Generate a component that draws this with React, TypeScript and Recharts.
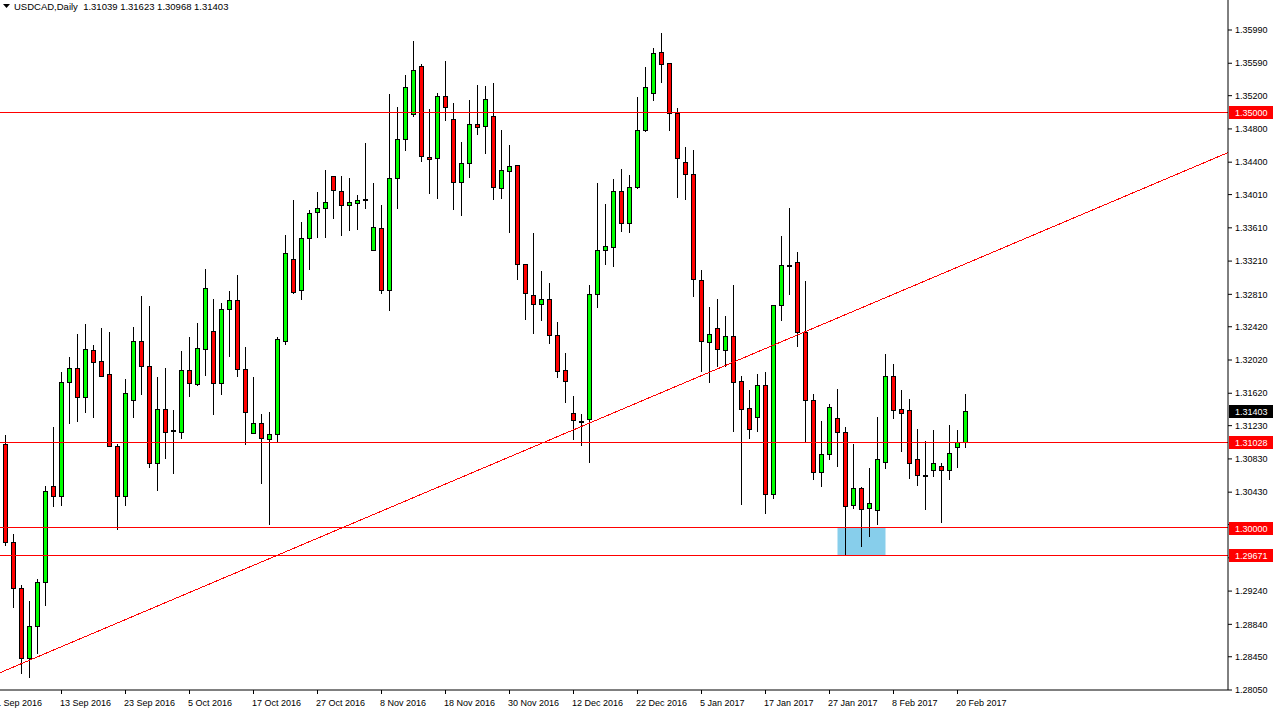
import {
  Bar,
  ComposedChart,
  ReferenceArea,
  ReferenceLine,
  XAxis,
  YAxis,
} from "recharts";

const FONT = '"Liberation Sans", Arial, sans-serif';

// daily bars, 2 Sep 2016 .. 21 Feb 2017 (no bars on 26 Dec and 2 Jan)
const opens = [
  1.3101, 1.29831, 1.29274, 1.28432, 1.28817, 1.29346, 1.30504, 1.30381, 1.31752, 1.3192,
  1.31572, 1.32137, 1.32008, 1.31852, 1.30982, 1.30388, 1.31535, 1.32245, 1.31944, 1.30778,
  1.31427, 1.31178, 1.31158, 1.31896, 1.31732, 1.32149, 1.32366, 1.3174, 1.3263, 1.32738,
  1.31908, 1.31138, 1.31259, 1.3107, 1.31126, 1.32252, 1.33235, 1.32859, 1.33484, 1.33797,
  1.33845, 1.3423, 1.3405, 1.33881, 1.33905, 1.33957, 1.3334, 1.33605, 1.32859, 1.34206,
  1.34675, 1.34976, 1.35553, 1.34459, 1.34447, 1.35193, 1.34916, 1.34158, 1.34387, 1.34856,
  1.34832, 1.34952, 1.34086, 1.3429, 1.34362, 1.33171, 1.32799, 1.3269, 1.3275, 1.32317,
  1.31896, 1.31379, 1.31286, 1.31307, 1.32811, 1.3334, 1.33376, 1.3405, 1.33665, 1.34101,
  1.34784, 1.35229, 1.35722, 1.3559, 1.34995, 1.34399, 1.34254, 1.32979, 1.32233, 1.32402,
  1.32146, 1.32309, 1.31764, 1.31439, 1.31331, 1.31716, 1.30405, 1.32678, 1.33167, 1.33196,
  1.32353, 1.31535, 1.30669, 1.30886, 1.31319, 1.3115, 1.30272, 1.30477, 1.30236, 1.30212,
  1.3079, 1.31824, 1.31427, 1.31415, 1.30826, 1.3064, 1.30693, 1.30741, 1.30697, 1.3097,
  1.31039,
];
const highs = [
  1.3113, 1.29943, 1.29326, 1.29133, 1.29394, 1.30516, 1.31226, 1.31888, 1.32068, 1.32341,
  1.32462, 1.32213, 1.32414, 1.32369, 1.31018, 1.318, 1.32429, 1.32802, 1.32682, 1.31828,
  1.31936, 1.31431, 1.32141, 1.32309, 1.32477, 1.33127, 1.32766, 1.32718, 1.32862, 1.33055,
  1.32189, 1.31828, 1.31379, 1.31407, 1.32309, 1.33536, 1.33953, 1.33692, 1.33837, 1.34053,
  1.34318, 1.34246, 1.34246, 1.34218, 1.34017, 1.34643, 1.34162, 1.33897, 1.35232, 1.35076,
  1.35461, 1.3587, 1.3559, 1.35048, 1.35244, 1.35626, 1.3512, 1.34651, 1.35156, 1.35341,
  1.35325, 1.35361, 1.34796, 1.34619, 1.34378, 1.3318, 1.3356, 1.33103, 1.32959, 1.32489,
  1.3212, 1.31599, 1.31383, 1.32935, 1.34162, 1.33905, 1.3421, 1.34326, 1.34258, 1.352,
  1.35557, 1.35786, 1.3597, 1.356, 1.35064, 1.34598, 1.34559, 1.33115, 1.3267, 1.32762,
  1.32558, 1.32935, 1.3184, 1.31671, 1.31864, 1.31884, 1.32698, 1.33524, 1.33864, 1.33331,
  1.32983, 1.31623, 1.31298, 1.31503, 1.3168, 1.31223, 1.31018, 1.30504, 1.30733, 1.31346,
  1.32101, 1.31984, 1.31671, 1.3156, 1.31199, 1.31058, 1.3119, 1.3079, 1.3125, 1.31187,
  1.31623,
];
const lows = [
  1.29795, 1.29045, 1.28251, 1.2821, 1.28492, 1.29073, 1.30267, 1.3028, 1.31266, 1.3129,
  1.31398, 1.31338, 1.31825, 1.30985, 1.29984, 1.30276, 1.31338, 1.31611, 1.30737, 1.30456,
  1.30845, 1.30664, 1.31086, 1.31591, 1.31719, 1.3184, 1.31371, 1.31611, 1.32068, 1.31831,
  1.31004, 1.31138, 1.30537, 1.30044, 1.31049, 1.32213, 1.3283, 1.32758, 1.33119, 1.33504,
  1.33504, 1.33732, 1.3352, 1.33581, 1.336, 1.33843, 1.3334, 1.3283, 1.32625, 1.33845,
  1.34543, 1.34952, 1.34418, 1.34026, 1.33973, 1.34904, 1.3384, 1.33761, 1.34225, 1.34743,
  1.34514, 1.33953, 1.33973, 1.33556, 1.32991, 1.32517, 1.32341, 1.32501, 1.32221, 1.31819,
  1.31511, 1.31066, 1.31001, 1.3079, 1.32661, 1.33169, 1.33151, 1.33576, 1.33564, 1.34089,
  1.3478, 1.35152, 1.35368, 1.34787, 1.33985, 1.33961, 1.32794, 1.31888, 1.31759, 1.31952,
  1.31948, 1.3117, 1.30284, 1.31086, 1.3117, 1.30176, 1.30364, 1.32501, 1.32818, 1.32192,
  1.31037, 1.30592, 1.30508, 1.30833, 1.30749, 1.29671, 1.30236, 1.29786, 1.29906, 1.30051,
  1.30725, 1.31326, 1.30929, 1.30604, 1.3052, 1.30231, 1.30621, 1.30075, 1.30585, 1.30729,
  1.30968,
];
const closes = [
  1.29834, 1.29274, 1.28432, 1.2882, 1.29346, 1.30441, 1.30381, 1.31752, 1.3192, 1.31572,
  1.32149, 1.32, 1.31831, 1.30989, 1.30388, 1.31623, 1.32245, 1.31944, 1.30778, 1.31427,
  1.3115, 1.31178, 1.31896, 1.3174, 1.32161, 1.32883, 1.3174, 1.3263, 1.32738, 1.31908,
  1.31391, 1.31259, 1.31078, 1.31126, 1.32269, 1.33304, 1.32838, 1.33484, 1.33785, 1.33845,
  1.33917, 1.34062, 1.33881, 1.33917, 1.33941, 1.33957, 1.33617, 1.32859, 1.34206, 1.34675,
  1.35301, 1.35505, 1.34471, 1.34435, 1.35193, 1.3506, 1.34158, 1.34387, 1.34856, 1.3482,
  1.35156, 1.34098, 1.34302, 1.3435, 1.33171, 1.32823, 1.3269, 1.3275, 1.32317, 1.31884,
  1.31764, 1.31295, 1.31286, 1.32811, 1.3334, 1.33388, 1.3405, 1.33665, 1.34098, 1.34784,
  1.35301, 1.3571, 1.35578, 1.34995, 1.34447, 1.34254, 1.32991, 1.32245, 1.32329, 1.32153,
  1.32306, 1.31759, 1.31427, 1.31187, 1.31716, 1.30405, 1.32678, 1.33159, 1.33167, 1.32353,
  1.31535, 1.30669, 1.30886, 1.31451, 1.3115, 1.30264, 1.30477, 1.30224, 1.30296, 1.30826,
  1.31824, 1.31422, 1.31379, 1.30778, 1.30633, 1.3064, 1.30778, 1.30693, 1.30898, 1.3103,
  1.31403,
];

// date labels sit on every 8th bar (bar -1 is 1 Sep, just off the left edge)
const labelBars = [-1, 7, 15, 23, 31, 39, 47, 55, 63, 71, 79, 87, 95, 103, 111, 119];
const dateLabels = [
  "1 Sep 2016", "13 Sep 2016", "23 Sep 2016", "5 Oct 2016", "17 Oct 2016", "27 Oct 2016",
  "8 Nov 2016", "18 Nov 2016", "30 Nov 2016", "12 Dec 2016", "22 Dec 2016", "5 Jan 2017",
  "17 Jan 2017", "27 Jan 2017", "8 Feb 2017", "20 Feb 2017",
];

const priceTicks = [
  1.2805, 1.2845, 1.2884, 1.2924, 1.2964, 1.3004, 1.3043, 1.3083, 1.3123, 1.3162, 1.3202,
  1.3242, 1.3281, 1.3321, 1.3361, 1.3401, 1.344, 1.348, 1.352, 1.3559, 1.3599,
];

// horizontal levels drawn on the chart
const levels = [1.35, 1.31028, 1.3, 1.29671];
const lastPrice = 1.31403;

// rising trend line, from the left edge to the right edge
const trendBars = [-0.6875, 152.8125];
const trendPrices = [1.28258, 1.34515];

// support zone box
const zoneBars = [104, 110];
const zonePrices = [1.29671, 1.3];

const priceDomain = [1.2805, 1.36351];

const data = opens.map((o, i) => ({
  bar: i,
  open: o,
  high: highs[i],
  low: lows[i],
  close: closes[i],
  range: [lows[i], highs[i]],
}));

function Candle(props: any) {
  const { x, y, width, height, payload } = props;
  if (!payload || height == null) return null;
  const { open, close, high, low } = payload;
  const span = high - low || 1;
  const py = (p: number) => Math.round(y + ((high - p) / span) * height) + 0.5;
  const cx = Math.floor(x + width / 2) + 0.5;
  const yO = py(open);
  const yC = py(close);
  const top = Math.min(yO, yC);
  const bot = Math.max(yO, yC);
  return (
    <g shapeRendering="crispEdges">
      <line x1={cx} x2={cx} y1={py(high)} y2={py(low)} stroke="#000" />
      {bot - top < 1 ? (
        <rect x={cx - 2.5} y={top - 1} width={5} height={2} fill="#000" />
      ) : (
        <rect
          x={cx - 2}
          y={top}
          width={4}
          height={bot - top}
          fill={close >= open ? "#00ff00" : "#ff0000"}
          stroke="#000"
        />
      )}
    </g>
  );
}

function DateTick({ x, y, payload }: any) {
  const label = dateLabels[labelBars.indexOf(payload.value)];
  return (
    <text x={x - 1.5} y={y + 10} fontSize={9} fontFamily={FONT} fill="#000" textAnchor="start">
      {label}
    </text>
  );
}

function PriceTag({ viewBox, text, bg }: any) {
  if (!viewBox) return null;
  const right = viewBox.x + viewBox.width;
  const cy = Math.round(viewBox.y);
  return (
    <g>
      <rect x={right + 1} y={cy - 6} width={44} height={13} fill={bg} />
      <text x={right + 7} y={cy + 4} fontSize={9} fontFamily={FONT} fill="#fff">
        {text}
      </text>
    </g>
  );
}

export default function App() {
  const last = data.length - 1;
  const title = `USDCAD,Daily  ${[opens[last], highs[last], lows[last], closes[last]]
    .map((v) => v.toFixed(5))
    .join(" ")}`;
  return (
    <div style={{ position: "absolute", left: 0, top: 0, width: 1274, height: 713, background: "#fff" }}>
      <ComposedChart
        width={1274}
        height={713}
        data={data}
        margin={{ top: 0, right: 0, bottom: 0, left: 0 }}
      >
        <XAxis
          type="number"
          dataKey="bar"
          domain={trendBars}
          allowDataOverflow
          ticks={labelBars}
          interval={0}
          height={23}
          tickSize={4}
          tickMargin={2}
          tick={<DateTick />}
          axisLine={{ stroke: "#000" }}
          tickLine={{ stroke: "#000" }}
        />
        <YAxis
          orientation="right"
          domain={priceDomain}
          allowDataOverflow
          ticks={priceTicks}
          interval={0}
          width={46}
          tickSize={4}
          tickMargin={3}
          tickFormatter={(v: number) => v.toFixed(5)}
          tick={{ fontSize: 9, fill: "#000", fontFamily: FONT }}
          axisLine={{ stroke: "#000" }}
          tickLine={{ stroke: "#000" }}
        />
        <ReferenceArea
          x1={zoneBars[0]}
          x2={zoneBars[1]}
          y1={zonePrices[0]}
          y2={zonePrices[1]}
          fill="#87ceeb"
          fillOpacity={1}
          stroke="none"
          ifOverflow="visible"
        />
        {levels.map((lv) => (
          <ReferenceLine key={lv} y={lv} stroke="#ff0000" shapeRendering="crispEdges" />
        ))}
        <ReferenceLine
          segment={[
            { x: trendBars[0], y: trendPrices[0] },
            { x: trendBars[1], y: trendPrices[1] },
          ]}
          stroke="#ff0000"
          shapeRendering="crispEdges"
          ifOverflow="visible"
        />
        <Bar dataKey="range" barSize={5} shape={<Candle />} isAnimationActive={false} />
      </ComposedChart>

      {/* price tags over the right axis, on a layer above the axis labels */}
      <div style={{ position: "absolute", left: 0, top: 0, pointerEvents: "none" }}>
        <ComposedChart
          width={1274}
          height={713}
          data={data}
          margin={{ top: 0, right: 46, bottom: 23, left: 0 }}
        >
          <XAxis type="number" dataKey="bar" domain={trendBars} allowDataOverflow hide />
          <YAxis domain={priceDomain} allowDataOverflow hide />
          {levels.map((lv) => (
            <ReferenceLine
              key={lv}
              y={lv}
              stroke="none"
              label={<PriceTag text={lv.toFixed(5)} bg="#ff0000" />}
            />
          ))}
          <ReferenceLine
            y={lastPrice}
            stroke="none"
            label={<PriceTag text={lastPrice.toFixed(5)} bg="#000" />}
          />
        </ComposedChart>
      </div>

      <div
        style={{
          position: "absolute",
          left: 3,
          top: 1,
          fontFamily: FONT,
          fontSize: 9.5,
          color: "#000",
          whiteSpace: "pre",
          display: "flex",
          alignItems: "center",
        }}
      >
        <svg width={7} height={5} style={{ marginRight: 4 }}>
          <polygon points="0,0 7,0 3.5,4" fill="#000" />
        </svg>
        {title}
      </div>
    </div>
  );
}
